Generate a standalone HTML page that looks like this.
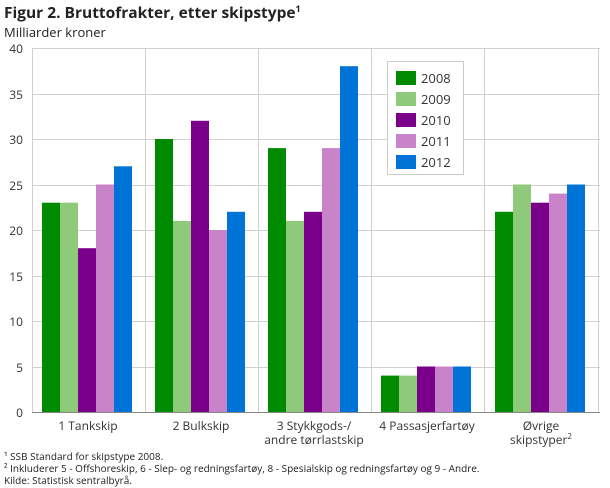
<!DOCTYPE html>
<html><head><meta charset="utf-8"><style>
body{margin:0;background:#fff;}
svg{display:block;font-family:"Open Sans","Liberation Sans",sans-serif;}
</style></head><body>
<svg width="610" height="488" xmlns="http://www.w3.org/2000/svg">
<text x="4" y="18" font-size="15.5" font-weight="bold" fill="#222">Figur 2. Bruttofrakter, etter skipstype<tspan font-size="9" dy="-6">1</tspan></text>
<text x="4" y="37" font-size="13" fill="#222">Milliarder kroner</text>
<g stroke="#d0d0d0" stroke-width="1">
<line x1="32" y1="48.5" x2="600" y2="48.5"/>
<line x1="32" y1="94.5" x2="600" y2="94.5"/>
<line x1="32" y1="139.5" x2="600" y2="139.5"/>
<line x1="32" y1="185.5" x2="600" y2="185.5"/>
<line x1="32" y1="230.5" x2="600" y2="230.5"/>
<line x1="32" y1="276.5" x2="600" y2="276.5"/>
<line x1="32" y1="321.5" x2="600" y2="321.5"/>
<line x1="32" y1="367.5" x2="600" y2="367.5"/>
<line x1="32.5" y1="48" x2="32.5" y2="412"/>
<line x1="145.5" y1="48" x2="145.5" y2="412"/>
<line x1="258.5" y1="48" x2="258.5" y2="412"/>
<line x1="371.5" y1="48" x2="371.5" y2="412"/>
<line x1="484.5" y1="48" x2="484.5" y2="412"/>
<line x1="598.5" y1="48" x2="598.5" y2="412"/>
</g>
<g font-size="12" fill="#333" text-anchor="end">
<text x="23" y="53">40</text><text x="23" y="99">35</text><text x="23" y="144">30</text><text x="23" y="190">25</text><text x="23" y="235">20</text><text x="23" y="281">15</text><text x="23" y="326">10</text><text x="23" y="372">5</text><text x="23" y="417">0</text>
</g>
<g id="bars"></g>
<line x1="32" y1="412.5" x2="600" y2="412.5" stroke="#888"/>
<g font-size="12" fill="#333" text-anchor="middle">
<text x="88" y="430">1 Tankskip</text>
<text x="201" y="430">2 Bulkskip</text>
<text x="314" y="430">3 Stykkgods-/</text>
<text x="314" y="444">andre tørrlastskip</text>
<text x="427" y="430">4 Passasjerfartøy</text>
<text x="541" y="430">Øvrige</text>
<text x="541" y="444">skipstyper<tspan font-size="8" dy="-5">2</tspan></text>
</g>
<rect x="387.5" y="61.5" width="76" height="113" fill="#fff" stroke="#ccc"/>
<g font-size="13" fill="#333">
<rect x="396" y="71" width="20" height="14" fill="#008a00"/><text x="421" y="83">2008</text>
<rect x="396" y="92" width="20" height="14" fill="#8fc97a"/><text x="421" y="104">2009</text>
<rect x="396" y="113" width="20" height="14" fill="#7a008a"/><text x="421" y="125">2010</text>
<rect x="396" y="134" width="20" height="14" fill="#c983c9"/><text x="421" y="146">2011</text>
<rect x="396" y="155" width="20" height="14" fill="#0073d6"/><text x="421" y="167">2012</text>
</g>
<g font-size="10" fill="#222">
<text x="4" y="460">¹ SSB Standard for skipstype 2008.</text>
<text x="4" y="472">² Inkluderer 5 - Offshoreskip, 6 - Slep- og redningsfartøy, 8 - Spesialskip og redningsfartøy og 9 - Andre.</text>
<text x="4" y="484">Kilde: Statistisk sentralbyrå.</text>
</g>
<g>
<rect x="42" y="202.7" width="18" height="209.3" fill="#008a00"/>
<rect x="60" y="202.7" width="18" height="209.3" fill="#8fc97a"/>
<rect x="78" y="248.2" width="18" height="163.8" fill="#7a008a"/>
<rect x="96" y="184.5" width="18" height="227.5" fill="#c983c9"/>
<rect x="114" y="166.3" width="18" height="245.7" fill="#0073d6"/>

<rect x="155" y="139" width="18" height="273" fill="#008a00"/>
<rect x="173" y="220.9" width="18" height="191.1" fill="#8fc97a"/>
<rect x="191" y="120.8" width="18" height="291.2" fill="#7a008a"/>
<rect x="209" y="230" width="18" height="182" fill="#c983c9"/>
<rect x="227" y="211.8" width="18" height="200.2" fill="#0073d6"/>

<rect x="268" y="148.1" width="18" height="263.9" fill="#008a00"/>
<rect x="286" y="220.9" width="18" height="191.1" fill="#8fc97a"/>
<rect x="304" y="211.8" width="18" height="200.2" fill="#7a008a"/>
<rect x="322" y="148.1" width="18" height="263.9" fill="#c983c9"/>
<rect x="340" y="66.2" width="18" height="345.8" fill="#0073d6"/>

<rect x="381" y="375.6" width="18" height="36.4" fill="#008a00"/>
<rect x="399" y="375.6" width="18" height="36.4" fill="#8fc97a"/>
<rect x="417" y="366.5" width="18" height="45.5" fill="#7a008a"/>
<rect x="435" y="366.5" width="18" height="45.5" fill="#c983c9"/>
<rect x="453" y="366.5" width="18" height="45.5" fill="#0073d6"/>

<rect x="495" y="211.8" width="18" height="200.2" fill="#008a00"/>
<rect x="513" y="184.5" width="18" height="227.5" fill="#8fc97a"/>
<rect x="531" y="202.7" width="18" height="209.3" fill="#7a008a"/>
<rect x="549" y="193.6" width="18" height="218.4" fill="#c983c9"/>
<rect x="567" y="184.5" width="18" height="227.5" fill="#0073d6"/>
</g>
</svg>
</body></html>
